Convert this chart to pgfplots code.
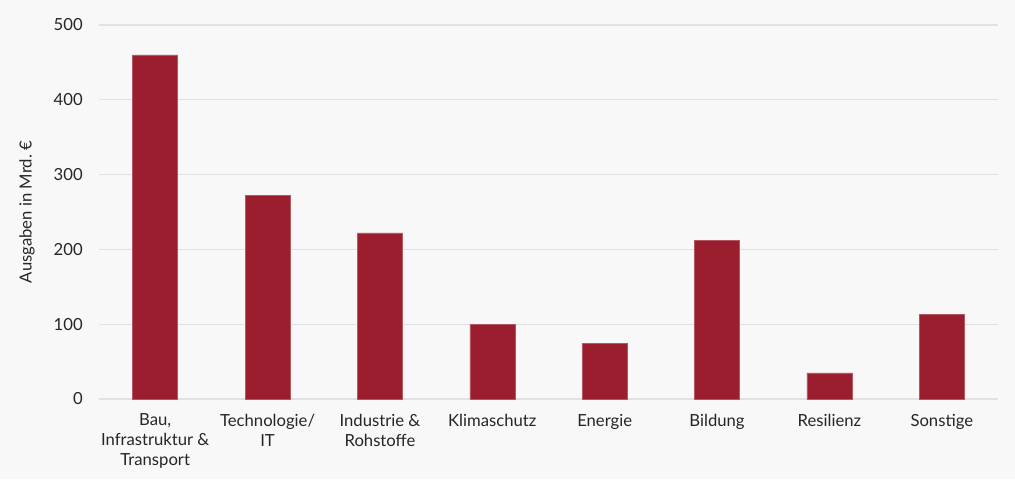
\documentclass[border=0pt]{standalone}
\usepackage{pgfplots}
\pgfplotsset{compat=1.18}
\usepackage{fontspec}
\setmainfont{Lato}
\definecolor{bg}{HTML}{F8F8F8}
\definecolor{barc}{HTML}{9B1E2F}
\definecolor{gridc}{HTML}{E2E2E2}
\definecolor{txt}{HTML}{262626}
\begin{document}
\begin{tikzpicture}
\fill[bg] (0,0) rectangle (761.25pt,359.25pt);
\begin{axis}[
  at={(74.25pt,60pt)}, anchor=south west,
  scale only axis,
  width=674.25pt, height=280.5pt,
  xmin=-0.5, xmax=7.5,
  ymin=0, ymax=500,
  ytick={0,100,200,300,400,500},
  xtick={0,1,2,3,4,5,6,7},
  xticklabels={{Bau,\\Infrastruktur \&\\Transport},{Technologie/\\IT},{Industrie \&\\Rohstoffe},{Klimaschutz},{Energie},{Bildung},{Resilienz},{Sonstige}},
  axis line style={draw=none},
  major tick length=0pt,
  ymajorgrids,
  grid style={gridc, line width=0.9pt},
  /pgf/number format/assume math mode=true,
  tick label style={font=\fontsize{12.5}{15}\selectfont, text=txt, inner sep=0pt},
  yticklabel style={xshift=-12pt},
  xticklabel style={align=center, yshift=-11pt},
  ylabel={Ausgaben in Mrd.\ €},
  ylabel style={at={(axis description cs:-0.0801,0.5)}, anchor=center, font=\fontsize{12.5}{15}\selectfont, text=txt},
  axis background/.style={fill=bg},
]
\addplot[ybar, bar width=33.75pt, fill=barc, draw=barc!75!white, line width=0.4pt] coordinates {
  (0,460) (1,272) (2,222) (3,100) (4,74) (5,212) (6,35) (7,113)
};
\end{axis}
\pgfresetboundingbox
\useasboundingbox (0,0) rectangle (761.25pt,359.25pt);
\end{tikzpicture}
\end{document}
